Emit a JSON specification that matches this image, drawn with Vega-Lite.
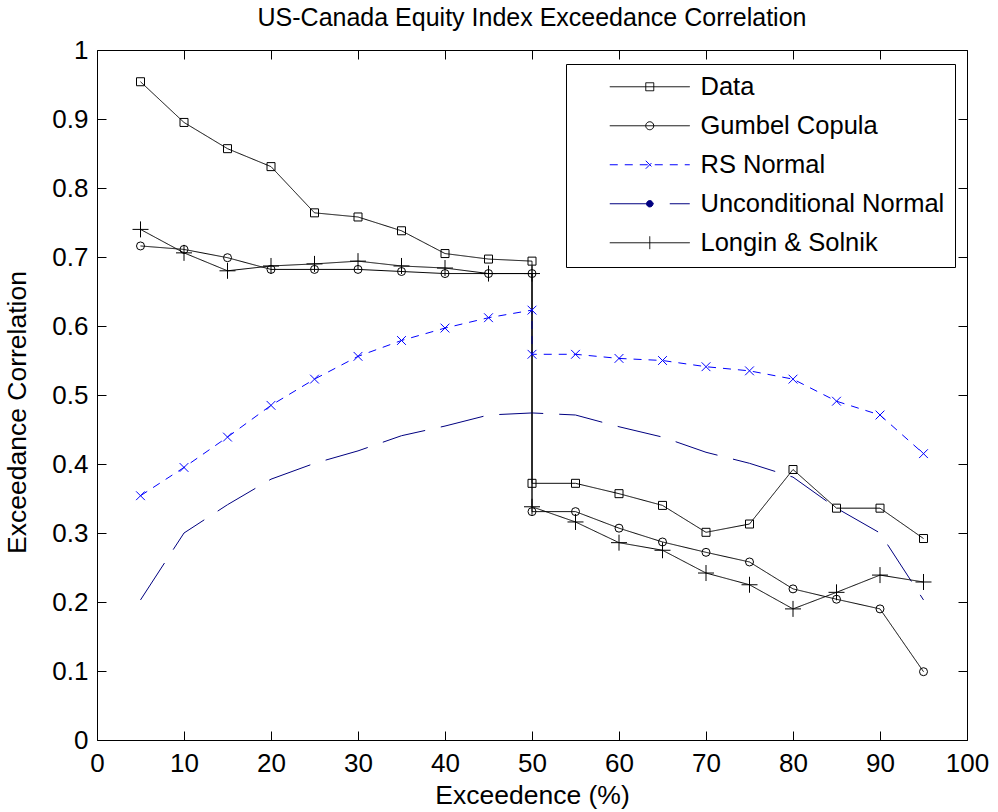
{
  "$schema": "https://vega.github.io/schema/vega-lite/v6.json",
  "width": 870,
  "height": 690,
  "autosize": {"type": "none"},
  "padding": {"left": 97, "top": 50, "right": 31, "bottom": 72},
  "background": "white",
  "title": {"text": "US-Canada Equity Index Exceedance Correlation", "font": "Liberation Sans", "fontSize": 25, "fontWeight": "normal", "color": "black", "offset": 6, "anchor": "middle"},
  "data": {"values": [
    {"series": "Data", "x": 5, "y": 0.954}, {"series": "Data", "x": 10, "y": 0.895}, {"series": "Data", "x": 15, "y": 0.857}, {"series": "Data", "x": 20, "y": 0.831}, {"series": "Data", "x": 25, "y": 0.764}, {"series": "Data", "x": 30, "y": 0.758}, {"series": "Data", "x": 35, "y": 0.738}, {"series": "Data", "x": 40, "y": 0.705}, {"series": "Data", "x": 45, "y": 0.697}, {"series": "Data", "x": 50, "y": 0.694},
    {"series": "Data", "x": 50, "y": 0.372}, {"series": "Data", "x": 55, "y": 0.372}, {"series": "Data", "x": 60, "y": 0.357}, {"series": "Data", "x": 65, "y": 0.340}, {"series": "Data", "x": 70, "y": 0.301}, {"series": "Data", "x": 75, "y": 0.313}, {"series": "Data", "x": 80, "y": 0.392}, {"series": "Data", "x": 85, "y": 0.336}, {"series": "Data", "x": 90, "y": 0.336}, {"series": "Data", "x": 95, "y": 0.292},
    {"series": "Gumbel Copula", "x": 5, "y": 0.716}, {"series": "Gumbel Copula", "x": 10, "y": 0.711}, {"series": "Gumbel Copula", "x": 15, "y": 0.699}, {"series": "Gumbel Copula", "x": 20, "y": 0.682}, {"series": "Gumbel Copula", "x": 25, "y": 0.682}, {"series": "Gumbel Copula", "x": 30, "y": 0.682}, {"series": "Gumbel Copula", "x": 35, "y": 0.679}, {"series": "Gumbel Copula", "x": 40, "y": 0.676}, {"series": "Gumbel Copula", "x": 45, "y": 0.676}, {"series": "Gumbel Copula", "x": 50, "y": 0.676},
    {"series": "Gumbel Copula", "x": 50, "y": 0.331}, {"series": "Gumbel Copula", "x": 55, "y": 0.331}, {"series": "Gumbel Copula", "x": 60, "y": 0.307}, {"series": "Gumbel Copula", "x": 65, "y": 0.287}, {"series": "Gumbel Copula", "x": 70, "y": 0.272}, {"series": "Gumbel Copula", "x": 75, "y": 0.258}, {"series": "Gumbel Copula", "x": 80, "y": 0.219}, {"series": "Gumbel Copula", "x": 85, "y": 0.204}, {"series": "Gumbel Copula", "x": 90, "y": 0.190}, {"series": "Gumbel Copula", "x": 95, "y": 0.099},
    {"series": "RS Normal", "x": 5, "y": 0.354}, {"series": "RS Normal", "x": 10, "y": 0.395}, {"series": "RS Normal", "x": 15, "y": 0.439}, {"series": "RS Normal", "x": 20, "y": 0.485}, {"series": "RS Normal", "x": 25, "y": 0.523}, {"series": "RS Normal", "x": 30, "y": 0.556}, {"series": "RS Normal", "x": 35, "y": 0.579}, {"series": "RS Normal", "x": 40, "y": 0.597}, {"series": "RS Normal", "x": 45, "y": 0.612}, {"series": "RS Normal", "x": 50, "y": 0.623},
    {"series": "RS Normal", "x": 50, "y": 0.559}, {"series": "RS Normal", "x": 55, "y": 0.559}, {"series": "RS Normal", "x": 60, "y": 0.553}, {"series": "RS Normal", "x": 65, "y": 0.550}, {"series": "RS Normal", "x": 70, "y": 0.541}, {"series": "RS Normal", "x": 75, "y": 0.535}, {"series": "RS Normal", "x": 80, "y": 0.523}, {"series": "RS Normal", "x": 85, "y": 0.491}, {"series": "RS Normal", "x": 90, "y": 0.471}, {"series": "RS Normal", "x": 95, "y": 0.415},
    {"series": "Unconditional Normal", "x": 5, "y": 0.203}, {"series": "Unconditional Normal", "x": 10, "y": 0.300}, {"series": "Unconditional Normal", "x": 15, "y": 0.341}, {"series": "Unconditional Normal", "x": 20, "y": 0.378}, {"series": "Unconditional Normal", "x": 25, "y": 0.401}, {"series": "Unconditional Normal", "x": 30, "y": 0.419}, {"series": "Unconditional Normal", "x": 35, "y": 0.441}, {"series": "Unconditional Normal", "x": 40, "y": 0.455}, {"series": "Unconditional Normal", "x": 45, "y": 0.471}, {"series": "Unconditional Normal", "x": 50, "y": 0.474}, {"series": "Unconditional Normal", "x": 55, "y": 0.471}, {"series": "Unconditional Normal", "x": 60, "y": 0.454}, {"series": "Unconditional Normal", "x": 65, "y": 0.439}, {"series": "Unconditional Normal", "x": 70, "y": 0.417}, {"series": "Unconditional Normal", "x": 75, "y": 0.401}, {"series": "Unconditional Normal", "x": 80, "y": 0.381}, {"series": "Unconditional Normal", "x": 85, "y": 0.336}, {"series": "Unconditional Normal", "x": 90, "y": 0.300}, {"series": "Unconditional Normal", "x": 95, "y": 0.203},
    {"series": "Longin & Solnik", "x": 5, "y": 0.740}, {"series": "Longin & Solnik", "x": 10, "y": 0.706}, {"series": "Longin & Solnik", "x": 15, "y": 0.680}, {"series": "Longin & Solnik", "x": 20, "y": 0.687}, {"series": "Longin & Solnik", "x": 25, "y": 0.690}, {"series": "Longin & Solnik", "x": 30, "y": 0.694}, {"series": "Longin & Solnik", "x": 35, "y": 0.687}, {"series": "Longin & Solnik", "x": 40, "y": 0.684}, {"series": "Longin & Solnik", "x": 45, "y": 0.676}, {"series": "Longin & Solnik", "x": 50, "y": 0.676},
    {"series": "Longin & Solnik", "x": 50, "y": 0.338}, {"series": "Longin & Solnik", "x": 55, "y": 0.316}, {"series": "Longin & Solnik", "x": 60, "y": 0.286}, {"series": "Longin & Solnik", "x": 65, "y": 0.275}, {"series": "Longin & Solnik", "x": 70, "y": 0.242}, {"series": "Longin & Solnik", "x": 75, "y": 0.225}, {"series": "Longin & Solnik", "x": 80, "y": 0.190}, {"series": "Longin & Solnik", "x": 85, "y": 0.214}, {"series": "Longin & Solnik", "x": 90, "y": 0.239}, {"series": "Longin & Solnik", "x": 95, "y": 0.229}
  ]},
  "layer": [
    {
      "mark": {"type": "line", "strokeWidth": 1},
      "encoding": {
        "x": {"field": "x", "type": "quantitative", "scale": {"domain": [0, 100], "nice": false}, "axis": {"orient": "bottom", "title": "Exceedence (%)", "values": [0, 10, 20, 30, 40, 50, 60, 70, 80, 90, 100], "labelPadding": 19, "titlePadding": 6}},
        "y": {"field": "y", "type": "quantitative", "scale": {"domain": [0, 1], "nice": false}, "axis": {"orient": "left", "title": "Exceedance Correlation", "values": [0, 0.1, 0.2, 0.3, 0.4, 0.5, 0.6, 0.7, 0.8, 0.9, 1], "format": "~g", "labelPadding": 18, "titlePadding": 20, "titleY": 362}},
        "color": {"field": "series", "type": "nominal", "legend": null, "scale": {"domain": ["Data", "Gumbel Copula", "RS Normal", "Unconditional Normal", "Longin & Solnik"], "range": ["#000000", "#000000", "#0000ff", "#000080", "#000000"]}},
        "strokeDash": {"field": "series", "type": "nominal", "legend": null, "scale": {"domain": ["Data", "Gumbel Copula", "RS Normal", "Unconditional Normal", "Longin & Solnik"], "range": [[1, 0], [1, 0], [8, 7], [44, 16], [1, 0]]}},
        "order": {"value": null}
      }
    },
    {
      "transform": [{"filter": "datum.series !== 'Unconditional Normal'"}],
      "mark": {"type": "point", "filled": false, "opacity": 1, "strokeWidth": 1, "size": 64},
      "encoding": {
        "x": {"field": "x", "type": "quantitative", "axis": {"orient": "top", "title": null, "labels": false, "values": [0, 10, 20, 30, 40, 50, 60, 70, 80, 90, 100]}},
        "y": {"field": "y", "type": "quantitative", "axis": {"orient": "right", "title": null, "labels": false, "values": [0, 0.1, 0.2, 0.3, 0.4, 0.5, 0.6, 0.7, 0.8, 0.9, 1]}},
        "color": {"field": "series", "type": "nominal", "legend": null, "scale": {"domain": ["Data", "Gumbel Copula", "RS Normal", "Unconditional Normal", "Longin & Solnik"], "range": ["#000000", "#000000", "#0000ff", "#000080", "#000000"]}},
        "shape": {"field": "series", "type": "nominal", "legend": null, "scale": {"domain": ["Data", "Gumbel Copula", "RS Normal", "Longin & Solnik"], "range": ["square", "circle", "M-1.1,-1.1L1.1,1.1M-1.1,1.1L1.1,-1.1", "M-2,0L2,0M0,-2L0,2"]}}
      }
    },
    {
      "transform": [{"filter": "false"}],
      "mark": {"type": "point", "filled": false, "opacity": 1, "strokeWidth": 1},
      "encoding": {
        "shape": {"field": "series", "type": "nominal", "scale": {"domain": ["Data", "Gumbel Copula", "RS Normal", "Unconditional Normal", "Longin & Solnik"], "range": ["M-10,0L10,0M-1,-1L1,-1L1,1L-1,1Z", "M-10,0L10,0M-1,0A1,1,0,1,0,1,0A1,1,0,1,0,-1,0", "M-10,0L10,0M-1,-1L1,1M-1,1L1,-1", "M-10,0L10,0M-0.8,0A0.8,0.8,0,1,0,0.8,0A0.8,0.8,0,1,0,-0.8,0", "M-10,0L10,0M0,-1.6L0,1.6"]}},
        "color": {"field": "series", "type": "nominal", "scale": {"domain": ["Data", "Gumbel Copula", "RS Normal", "Unconditional Normal", "Longin & Solnik"], "range": ["#000000", "#000000", "#0000ff", "#000080", "#000000"]}},
        "fill": {"field": "series", "type": "nominal", "scale": {"domain": ["Data", "Gumbel Copula", "RS Normal", "Unconditional Normal", "Longin & Solnik"], "range": ["transparent", "transparent", "transparent", "#000080", "transparent"]}},
        "strokeDash": {"field": "series", "type": "nominal", "scale": {"domain": ["Data", "Gumbel Copula", "RS Normal", "Unconditional Normal", "Longin & Solnik"], "range": [[1, 0], [1, 0], [8, 7], [44, 16], [1, 0]]}}
      }
    }
  ],
  "resolve": {
    "axis": {"x": "independent", "y": "independent"},
    "scale": {"shape": "independent", "color": "independent", "strokeDash": "independent", "fill": "independent"}
  },
  "config": {
    "view": {"stroke": "black", "strokeWidth": 1},
    "axis": {"domain": false, "grid": false, "tickSize": -9, "tickColor": "black", "tickWidth": 1, "labelFont": "Liberation Sans", "labelFontSize": 26, "labelColor": "black", "titleFont": "Liberation Sans", "titleFontSize": 26.5, "titleFontWeight": "normal", "titleColor": "black", "labelFlush": false, "labelOverlap": false},
    "legend": {"title": null, "orient": "none", "legendX": 469, "legendY": 14, "padding": 10, "strokeColor": "black", "fillColor": "white", "symbolSize": 64, "symbolOffset": 61, "labelOffset": 38, "labelFont": "Liberation Sans", "labelFontSize": 25.5, "labelColor": "black", "rowPadding": 12, "symbolStrokeWidth": 1, "labelLimit": 400, "symbolOpacity": 1}
  }
}
